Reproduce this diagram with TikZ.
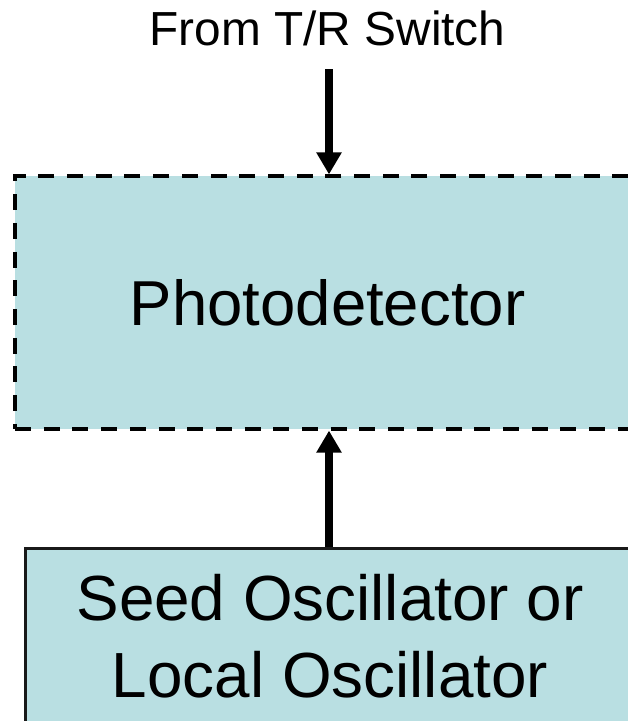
\documentclass[tikz,border=0pt]{standalone}
\usepackage{fontspec}
\setmainfont{Liberation Sans}
\usetikzlibrary{arrows.meta}
\definecolor{boxfill}{RGB}{185,223,226}
\tikzset{
  pdbox/.style={draw=black, fill=boxfill, line width=3.2pt, dash pattern=on 16pt off 12.7pt, rectangle, inner sep=0pt, font=\fontsize{63.5}{75}\selectfont},
  seedbox/.style={draw=black!90, fill=boxfill, line width=3pt, rectangle, inner sep=0pt, align=center, font=\fontsize{63.8}{77}\selectfont},
  bigarrow/.style={line width=7.5pt, -{Triangle[length=22pt,width=24pt]}},
  toplabel/.style={font=\fontsize{47.8}{55}\selectfont, inner sep=0pt}
}
\begin{document}
\begin{tikzpicture}[x=1pt,y=-1pt]
\useasboundingbox (0,0) rectangle (628,721);
\clip (0,0) rectangle (628,721);
\node[pdbox, minimum width=625pt, minimum height=253pt] (pd) at (327.5,302.5) {Photodetector};
\node[seedbox, minimum width=610pt, minimum height=176pt] (seed) at (330,636) {Seed Oscillator or\\Local Oscillator};
\node[toplabel, anchor=base] (src) at (327.5,45) {From T/R Switch};
\coordinate (srcend) at (329,69);
\draw[bigarrow] (srcend) -- (pd.north -| srcend);
\draw[bigarrow] (seed.north -| srcend) -- (pd.south -| srcend);
\end{tikzpicture}
\end{document}
